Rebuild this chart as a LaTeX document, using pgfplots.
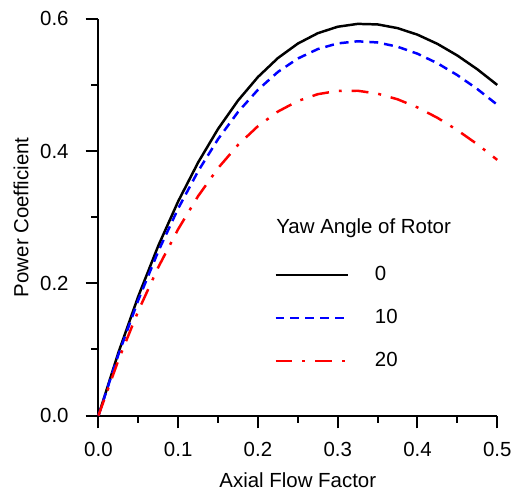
\documentclass[border={3.5pt 0pt 2.5pt 2.5pt}]{standalone}
\usepackage{fontspec}
\setmainfont{Liberation Sans}
\usepackage{pgfplots}
\pgfplotsset{compat=1.18}
\newcommand\cf{\fontsize{10.3}{12.4}\selectfont}

\begin{document}
\begin{tikzpicture}
\begin{axis}[
  width=201pt, height=200pt, scale only axis,
  xmin=0, xmax=0.5, ymin=0, ymax=0.6,
  axis lines*=left, axis line style={line width=1pt},
  xtick={0,0.1,...,0.5}, ytick={0,0.2,0.4,0.6},
  minor xtick={0.05,0.15,...,0.45}, minor ytick={0.1,0.3,0.5},
  tick align=outside, tick style={line width=1pt, black},
  major tick length=6.5pt, minor tick length=3.5pt,
  /pgf/number format/assume math mode=true,
  /pgf/number format/fixed, /pgf/number format/fixed zerofill,
  /pgf/number format/precision=1,
  tick label style={font=\cf},
  xticklabel style={yshift=-3.5pt}, yticklabel style={xshift=-5pt},
  xlabel={Axial Flow Factor}, ylabel={Power Coefficient},
  label style={font=\cf},
  xlabel shift=1pt, ylabel shift=-1pt,
  clip=false,
  legend style={draw=none, fill=none, at={(axis cs:0.22,0.2175)}, anchor=north west,
    font=\cf, row sep=9pt, column sep=11pt, inner sep=0pt, yshift=5pt},
  legend cell align=left,
  legend image code/.code={\draw[#1] (0pt,0pt) -- (36.5pt,0pt);},
]
\addplot[black, line width=1.25pt] coordinates {
(0,0) (0.025,0.0951) (0.05,0.1805) (0.075,0.2567) (0.1,0.324) (0.125,0.3828)
(0.15,0.4335) (0.175,0.4764) (0.2,0.512) (0.225,0.5406) (0.25,0.5625)
(0.275,0.5782) (0.3,0.588) (0.325,0.5923) (0.35,0.5915) (0.375,0.5859)
(0.4,0.576) (0.425,0.5621) (0.45,0.5445) (0.475,0.5237) (0.5,0.5)};
\addlegendentry{0}
\addplot[blue, line width=1.25pt, dash pattern=on 4.5pt off 3pt] coordinates {
(0,0) (0.025,0.0921) (0.05,0.1748) (0.075,0.2483) (0.1,0.3132) (0.125,0.3696)
(0.15,0.4181) (0.175,0.4591) (0.2,0.4927) (0.225,0.5196) (0.25,0.5399)
(0.275,0.5542) (0.3,0.5628) (0.325,0.5660) (0.35,0.5642) (0.375,0.5578)
(0.4,0.5472) (0.425,0.5328) (0.45,0.5148) (0.475,0.4938) (0.5,0.4701)};
\addlegendentry{10}
\addplot[red, line width=1.25pt, dash pattern=on 8.5pt off 5pt on 1.5pt off 5pt] coordinates {
(0,0) (0.025,0.0837) (0.05,0.1583) (0.075,0.2243) (0.1,0.2820) (0.125,0.3319)
(0.15,0.3742) (0.175,0.4093) (0.2,0.4377) (0.225,0.4597) (0.25,0.4757)
(0.275,0.4860) (0.3,0.4910) (0.325,0.4912) (0.35,0.4868) (0.375,0.4783)
(0.4,0.4660) (0.425,0.4503) (0.45,0.4316) (0.475,0.4103) (0.5,0.3867)};
\addlegendentry{20}
\node[anchor=west, font=\cf, inner sep=0pt] at (axis cs:0.2226,0.283) {Yaw Angle of Rotor};
\end{axis}
\end{tikzpicture}
\end{document}
